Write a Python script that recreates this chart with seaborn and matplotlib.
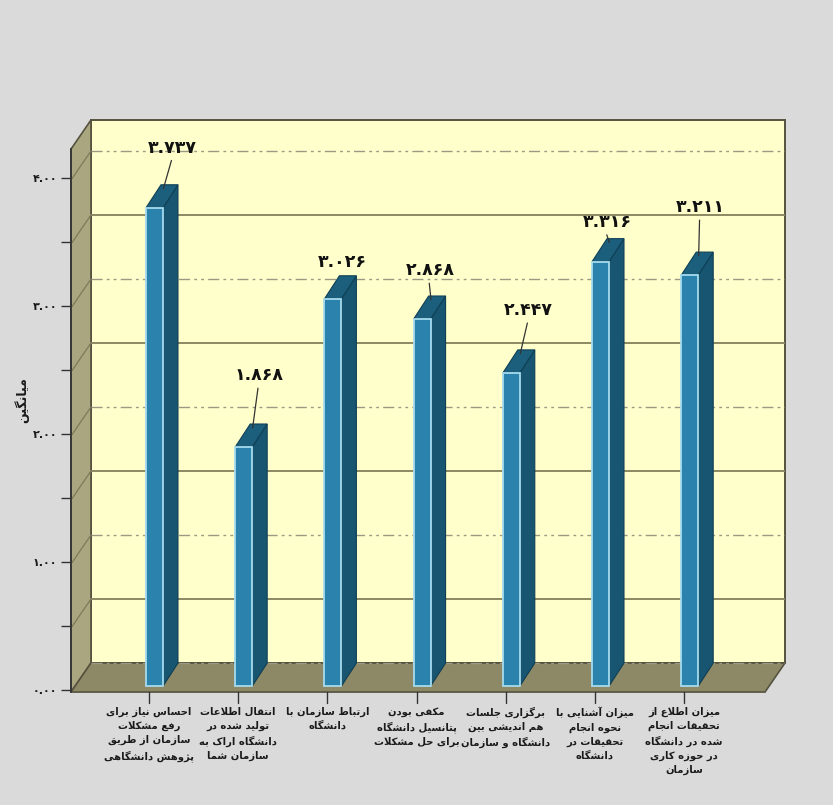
import numpy as np
import pandas as pd
import seaborn as sns
import matplotlib
matplotlib.use("Agg")
import matplotlib.pyplot as plt
from matplotlib.patches import Polygon
from matplotlib import font_manager

# data
categories = [
    "احساس نیاز برای\nرفع مشکلات\nسازمان از طریق\nپژوهش دانشگاهی",
    "انتقال اطلاعات\nتولید شده در\nدانشگاه اراک به\nسازمان شما",
    "ارتباط سازمان با\nدانشگاه",
    "مکفی بودن\nپتانسیل دانشگاه\nبرای حل مشکلات",
    "برگزاری جلسات\nهم اندیشی بین\nدانشگاه و سازمان",
    "میزان آشنایی با\nنحوه انجام\nتحقیقات در\nدانشگاه",
    "میزان اطلاع از\nتحقیقات انجام\nشده در دانشگاه\nدر حوزه کاری\nسازمان",
]
values = [3.737, 1.868, 3.026, 2.868, 2.447, 3.316, 3.211]
value_labels = ["۳.۷۳۷", "۱.۸۶۸", "۳.۰۲۶", "۲.۸۶۸", "۲.۴۴۷", "۳.۳۱۶", "۳.۲۱۱"]
y_ticks = [0, 1, 2, 3, 4]
y_tick_labels = ["۰.۰۰", "۱.۰۰", "۲.۰۰", "۳.۰۰", "۴.۰۰"]
y_title = "میانگین"

# where each value label sits relative to its bar top (data units)
label_offsets = [(0.20, 0.50), (0.17, 0.59), (0.11, 0.32), (0.09, 0.41),
                 (0.19, 0.52), (0.08, 0.34), (0.12, 0.56)]

# --- simple arabic/persian shaping (matplotlib has no bidi / joining) ---
_dual = {'ئ': 0xFE89, 'ب': 0xFE8F, 'ت': 0xFE95, 'ث': 0xFE99, 'ج': 0xFE9D,
         'ح': 0xFEA1, 'خ': 0xFEA5, 'س': 0xFEB1, 'ش': 0xFEB5, 'ص': 0xFEB9,
         'ض': 0xFEBD, 'ط': 0xFEC1, 'ظ': 0xFEC5, 'ع': 0xFEC9, 'غ': 0xFECD,
         'ف': 0xFED1, 'ق': 0xFED5, 'ك': 0xFED9, 'ل': 0xFEDD, 'م': 0xFEE1,
         'ن': 0xFEE5, 'ه': 0xFEE9, 'ي': 0xFEF1, 'پ': 0xFB56, 'چ': 0xFB7A,
         'ک': 0xFB8E, 'گ': 0xFB92, 'ی': 0xFBFC}
_right = {'آ': 0xFE81, 'أ': 0xFE83, 'ؤ': 0xFE85, 'إ': 0xFE87, 'ا': 0xFE8D,
          'ة': 0xFE93, 'د': 0xFEA9, 'ذ': 0xFEAB, 'ر': 0xFEAD, 'ز': 0xFEAF,
          'و': 0xFEED, 'ژ': 0xFB8A}


def shape_line(line):
    res = []
    i = 0
    n = len(line)
    while i < n:
        c = line[i]
        joins_prev = i > 0 and line[i - 1] in _dual
        if c == 'ل' and i + 1 < n and line[i + 1] in ('ا', 'آ'):
            base = 0xFEFB if line[i + 1] == 'ا' else 0xFEF5
            res.append(chr(base + (1 if joins_prev else 0)))
            i += 2
            continue
        nxt = line[i + 1] if i + 1 < n else ''
        if c in _dual:
            joins_next = nxt in _dual or nxt in _right
            form = {(False, False): 0, (True, False): 1,
                    (False, True): 2, (True, True): 3}[(joins_prev, joins_next)]
            res.append(chr(_dual[c] + form))
        elif c in _right:
            res.append(chr(_right[c] + (1 if joins_prev else 0)))
        else:
            res.append(c)
        i += 1
    return ''.join(reversed(res))


def shape(text):
    return '\n'.join(shape_line(l) for l in text.split('\n'))


sns.set_theme(style="white")
plt.rcParams['font.family'] = ['DejaVu Sans']

installed = {f.name for f in font_manager.fontManager.ttflist}
label_family = 'DejaVu Sans Condensed' if 'DejaVu Sans Condensed' in installed else 'DejaVu Sans'
label_size = 8.3 if label_family == 'DejaVu Sans Condensed' else 7.2

W, H = 833, 805
fig = plt.figure(figsize=(W / 100, H / 100), dpi=100, facecolor='#dadada')
ax = fig.add_axes([71 / W, (H - 690) / H, (785 - 71) / W, (690 - 120) / H])
ax.patch.set_visible(False)

df = pd.DataFrame({"item": categories, "mean": values})
sns.barplot(data=df, x="item", y="mean", width=0.19, color="#2b83ad",
            saturation=1, edgecolor="#a6dbee", linewidth=1.3, ax=ax, zorder=5)
bars = list(ax.patches)

ax.set_xlim(-0.936, 7.068)
ax.set_ylim(0, 4.453)

# 3d box: left wall, back wall, floor
wdx, wdy = 0.224, 0.227
xl, xr = -0.936, 6.844
yf = -0.016
ytop = 4.453
wall_edge = "#55533f"
ax.add_patch(Polygon([(xl + wdx, yf + wdy), (xr + wdx, yf + wdy), (xr + wdx, ytop), (xl + wdx, ytop)],
                     closed=True, facecolor="#ffffcc", edgecolor=wall_edge, lw=1.4, zorder=0, clip_on=False))
ax.add_patch(Polygon([(xl, yf), (xl + wdx, yf + wdy), (xl + wdx, ytop), (xl, ytop - wdy)],
                     closed=True, facecolor="#aaa680", edgecolor=wall_edge, lw=1.2, zorder=1, clip_on=False))
ax.add_patch(Polygon([(xl, yf), (xr, yf), (xr + wdx, yf + wdy), (xl + wdx, yf + wdy)],
                     closed=True, facecolor="#8d8966", edgecolor=wall_edge, lw=1.2, zorder=1, clip_on=False))

# back wall grid and left wall diagonals
for k in range(1, 9):
    v = k * 0.5
    yb = yf + wdy + v
    if k % 2 == 0:
        ax.plot([xl + wdx, xr + wdx], [yb, yb], color="#9a9a84", lw=1.0,
                ls=(0, (8, 3, 2, 3, 2, 3)), zorder=2)
    else:
        ax.plot([xl + wdx, xr + wdx], [yb, yb], color="#8c8862", lw=1.4, zorder=2)
    ax.plot([xl, xl + wdx], [yf + v, yb], color="#7d7a5a", lw=0.9, zorder=2, clip_on=False)
ax.plot([xl + wdx, xr + wdx], [yf + wdy, yf + wdy], color="#9a9a84", lw=1.0,
        ls=(0, (8, 3, 2, 3, 2, 3)), zorder=2)

# bar sides and tops
bdx, bdy = 0.168, 0.18
for p in bars:
    p.set_y(0.03)
    x0, y0, w, h = p.get_x(), p.get_y(), p.get_width(), p.get_height()
    ax.add_patch(Polygon([(x0 + w, y0), (x0 + w + bdx, y0 + bdy), (x0 + w + bdx, y0 + h + bdy), (x0 + w, y0 + h)],
                         closed=True, facecolor="#175570", edgecolor="#0f3f55", lw=0.8, zorder=4))
    ax.add_patch(Polygon([(x0, y0 + h), (x0 + bdx, y0 + h + bdy), (x0 + w + bdx, y0 + h + bdy), (x0 + w, y0 + h)],
                         closed=True, facecolor="#1c5f7d", edgecolor="#0f3f55", lw=0.8, zorder=4))

# value labels with leader lines
for i, (v, lab, (ox, oy)) in enumerate(zip(values, value_labels, label_offsets)):
    lx, ly = i + ox, v + oy
    ax.text(lx, ly, lab, ha="center", va="center", fontsize=12.5, fontweight="bold",
            color="#111111", zorder=7)
    tx, ty = i + 0.1, v + 0.03 + 0.15
    if ly - 0.1 - ty > 0.05:
        ax.plot([lx - 0.01, tx], [ly - 0.1, ty], color="#333333", lw=0.9, zorder=6)

# category ticks and labels below the floor
ax.set_xticks([])
ax.set_xlabel("")
for i, cat in enumerate(categories):
    cx = i - 0.062
    ax.plot([cx, cx], [yf, -0.1], color="#333333", lw=1.0, clip_on=False)
    ax.text(cx, -0.13, shape(cat), ha="center", va="top", fontsize=label_size,
            family=[label_family, 'DejaVu Sans'], fontweight="bold",
            linespacing=1.5, color="#1a1a1a", multialignment="center")

# y axis
for s in ["top", "right", "bottom"]:
    ax.spines[s].set_visible(False)
ax.spines["left"].set_color("#333333")
ax.spines["left"].set_linewidth(1.3)
ax.spines["left"].set_bounds(yf, ytop - wdy)
ax.spines["left"].set_zorder(3)
ax.set_yticks(y_ticks)
ax.set_yticklabels(y_tick_labels, fontsize=8, fontweight="bold", color="#1a1a1a")
ax.set_yticks([0.5, 1.5, 2.5, 3.5], minor=True)
ax.tick_params(axis="y", which="both", direction="out", length=7, width=1.0,
               color="#333333", left=True, pad=3)
ax.set_ylabel("")
fig.text(22 / W, 1 - 400 / H, shape(y_title), rotation=90, ha="center", va="center",
         fontsize=9, fontweight="bold", color="#1a1a1a")

fig.savefig("out.png", dpi=100, facecolor=fig.get_facecolor())
